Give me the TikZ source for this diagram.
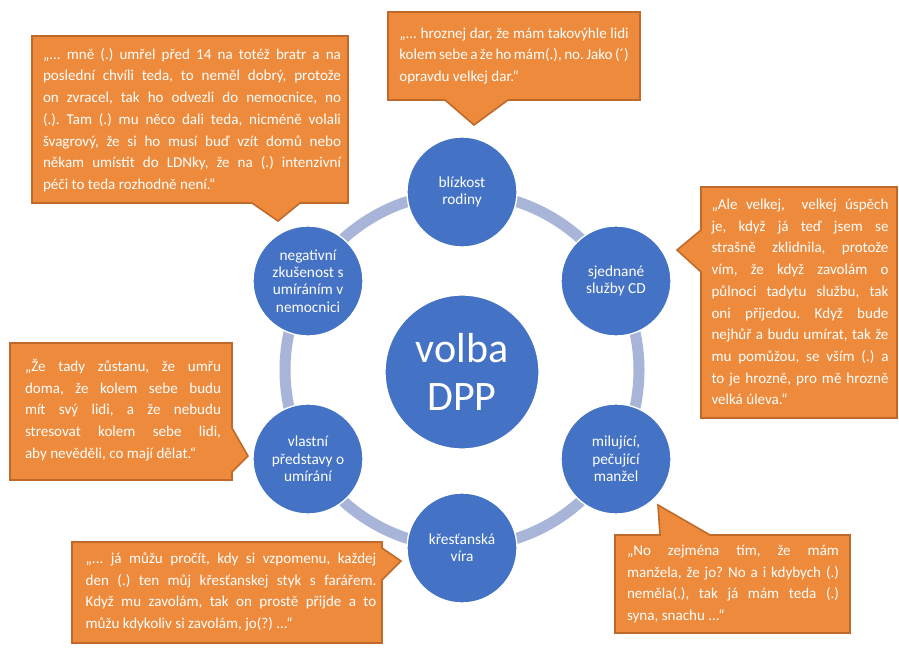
\documentclass[tikz,border=0pt]{standalone}
\usepackage{fontspec}
\setmainfont{Carlito}
\usepackage{xcolor}
\usepackage{tikz}
\definecolor{factorblue}{HTML}{4472C4}
\definecolor{ringblue}{HTML}{A8B5D9}
\definecolor{quotefill}{HTML}{EE8A3C}
\definecolor{quoteline}{HTML}{BF6A2A}
\frenchspacing

\begin{document}
\begin{tikzpicture}[
    x=0.75pt, y=-0.75pt,
    factor/.style={circle, draw=white, line width=1pt, fill=factorblue, minimum size=82.5pt, inner sep=0pt, align=center, text=white, font=\fontsize{11.5}{13}\selectfont},
    hub/.style={factor, minimum size=115.5pt, font=\fontsize{31.5}{36}\selectfont},
    ring/.style={draw=ringblue, line width=8.25pt},
    bubble/.style={fill=quotefill, draw=quoteline, line width=1.2pt},
    quote/.style={text=white, align=justify, inner sep=0pt, font=\fontsize{11.3}{16.3}\selectfont}
]
\useasboundingbox[fill=white] (0,0) rectangle (899,648);

% -- CYCLE --
\coordinate (mid) at (462,370);
\draw[ring] (mid) circle [radius=132.75pt];

\node[hub] (volba) at (462,372) {volba\\DPP};
\node[factor] (rodina) at (462,192) {blízkost\\rodiny};
\node[factor] (sluzby) at (616,281) {sjednané\\služby CD};
\node[factor] (manzel) at (616,459) {milující,\\pečující\\manžel};
\node[factor] (vira) at (462,548) {křesťanská\\víra};
\node[factor] (predstavy) at (308,459) {vlastní\\představy o\\umírání};
\node[factor] (zkusenost) at (308,281) {negativní\\zkušenost s\\umíráním v\\nemocnici};

% -- QUOTES --
\draw[bubble] (32,36) -- (348,36) -- (348,203) -- (300,203) -- (278,221) -- (252,203) -- (32,203) -- cycle;
\node[quote, text width=223.5pt] (q1) at (192,120) {„... mně (.) umřel před 14 na totéž bratr a na\linebreak
poslední chvíli teda, to neměl dobrý, protože\linebreak
on zvracel, tak ho odvezli do nemocnice, no\linebreak
(.). Tam (.) mu něco dali teda, nicméně volali\linebreak
švagrový, že si ho musí buď vzít domů nebo\linebreak
někam umístit do LDNky, že na (.) intenzivní\linebreak
péči to teda rozhodně není.“};

\draw[bubble] (388,12) -- (640,12) -- (640,100) -- (508,100) -- (474,125) -- (445,100) -- (388,100) -- cycle;
\node[quote, text width=172pt] (q2) at (514,56) {„... hroznej dar, že mám takovýhle lidi\linebreak
kolem sebe a že ho mám(.), no. Jako (´)\linebreak
opravdu velkej dar.“};

\draw[bubble] (701,187) -- (897,187) -- (897,418) -- (701,418) -- (701,272) -- (677,250) -- (701,230) -- cycle;
\node[quote, text width=132.75pt] (q3) at (800,302) {„Ale velkej,~ velkej úspěch\linebreak
je, když já teď jsem se\linebreak
strašně zklidnila, protože\linebreak
vím, že když zavolám o\linebreak
půlnoci tadytu službu, tak\linebreak
oni přijedou. Když bude\linebreak
nejhůř a budu umírat, tak že\linebreak
mu pomůžou, se vším (.) a\linebreak
to je hrozně, pro mě hrozně\linebreak
velká úleva.“};

\draw[bubble] (10,343) -- (232,343) -- (232,428) -- (248,456) -- (232,472) -- (232,480) -- (10,480) -- cycle;
\node[quote, text width=147pt] (q4) at (123,410) {„Že tady zůstanu, že umřu\linebreak
doma, že kolem sebe budu\linebreak
mít svý lidi, a že nebudu\linebreak
stresovat kolem sebe lidi,\linebreak
aby nevěděli, co mají dělat.“};

\draw[bubble] (72,542) -- (382,542) -- (382,548) -- (401,561) -- (382,580) -- (382,643) -- (72,643) -- cycle;
\node[quote, text width=218pt] (q5) at (231,592) {„... já můžu pročít, kdy si vzpomenu, každej\linebreak
den (.) ten můj křesťanskej styk s farářem.\linebreak
Když mu zavolám, tak on prostě přijde a to\linebreak
můžu kdykoliv si zavolám, jo(?) ...“};

\draw[bubble] (615,535) -- (660,535) -- (658,505) -- (710,535) -- (850,535) -- (850,633) -- (615,633) -- cycle;
\node[quote, text width=159pt] (q6) at (733,584) {„No zejména tím, že mám\linebreak
manžela, že jo? No a i kdybych (.)\linebreak
neměla(.), tak já mám teda (.)\linebreak
syna, snachu ...“};

\end{tikzpicture}
\end{document}
